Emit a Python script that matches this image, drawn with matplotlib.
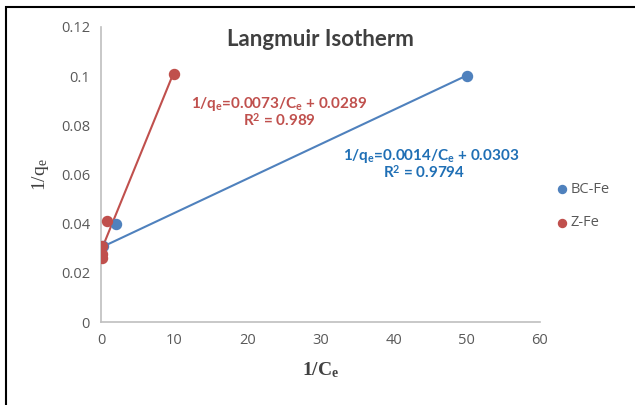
import matplotlib
matplotlib.use("Agg")
import matplotlib.pyplot as plt
import numpy as np
from matplotlib.patches import Rectangle

plt.rcParams['mathtext.fontset'] = 'custom'
plt.rcParams['mathtext.rm'] = 'Liberation Serif'
plt.rcParams['mathtext.it'] = 'Liberation Serif:bold'
plt.rcParams['mathtext.bf'] = 'Lato:bold'

# Data
bc_x = [0.3, 2.0, 50.0]
bc_y = [0.031, 0.040, 0.100]
z_x = [0.1, 0.1, 0.1, 0.8, 10.0]
z_y = [0.026, 0.0275, 0.031, 0.041, 0.101]
bc_fit = [0.0014, 0.0303]   # slope, intercept
z_fit = [0.0073, 0.0289]
series_names = ["BC-Fe", "Z-Fe"]
x_ticks = [0, 10, 20, 30, 40, 50, 60]
y_ticks = [0, 0.02, 0.04, 0.06, 0.08, 0.1, 0.12]
y_ticklabels = ["0", "0.02", "0.04", "0.06", "0.08", "0.1", "0.12"]

blue = "#4F81BD"
red = "#C0504D"
blue_txt = "#1F6FB5"
gray = "#595959"

fig = plt.figure(figsize=(6.35, 4.05), dpi=100)
ax = fig.add_axes([101/635, 83/405, 439/635, 295/405])

# trendlines
for xs, fit, c in [(bc_x, bc_fit, blue), (z_x, z_fit, red)]:
    xx = np.array([min(xs), max(xs)])
    ax.plot(xx, fit[0]*xx + fit[1], color=c, lw=1.5, zorder=2)

ax.scatter(bc_x, bc_y, s=52, color=blue, zorder=3, label=series_names[0])
ax.scatter(z_x, z_y, s=52, color=red, zorder=4, label=series_names[1])

ax.set_xlim(0, 60)
ax.set_ylim(0, 0.12)
ax.set_xticks(x_ticks)
ax.set_yticks(y_ticks)
ax.set_yticklabels(y_ticklabels)
ax.tick_params(length=0, labelsize=10.5, colors=gray, pad=8)
for lab in ax.get_xticklabels() + ax.get_yticklabels():
    lab.set_fontfamily('Open Sans')
for s in ['top', 'right']:
    ax.spines[s].set_visible(False)
for s in ['left', 'bottom']:
    ax.spines[s].set_color('#BFBFBF')
    ax.spines[s].set_linewidth(1.2)

ax.set_xlabel(r'1/C$_\mathit{e}$', family='Liberation Serif', fontweight='bold',
              fontsize=14, color='#404040', labelpad=9)
ax.set_ylabel(r'1/q$_\mathrm{e}$', family='Liberation Serif', fontsize=14,
              color='#404040', labelpad=7)

fig.text(320/635, 1 - 40/405, "Langmuir Isotherm", family='Lato', fontweight='bold',
         fontsize=16, color='#404040', ha='center', va='center')

ax.text(279/635, 1 - 104/405, r'1/q$_\mathbf{e}$=0.0073/C$_\mathbf{e}$ + 0.0289',
        transform=fig.transFigure, family='Lato', fontweight='bold', fontsize=11,
        color=red, ha='center', va='center')
ax.text(279/635, 1 - 121/405, "R$^\\mathbf{2}$ = 0.989",
        transform=fig.transFigure, family='Lato', fontweight='bold', fontsize=11,
        color=red, ha='center', va='center')
ax.text(431/635, 1 - 156/405, r'1/q$_\mathbf{e}$=0.0014/C$_\mathbf{e}$ + 0.0303',
        transform=fig.transFigure, family='Lato', fontweight='bold', fontsize=11,
        color=blue_txt, ha='center', va='center')
ax.text(424/635, 1 - 173/405, "R$^\\mathbf{2}$ = 0.9794",
        transform=fig.transFigure, family='Lato', fontweight='bold', fontsize=11,
        color=blue_txt, ha='center', va='center')

leg = fig.legend(loc='center left', bbox_to_anchor=(540/635, 1 - 206/405),
                 frameon=False, handletextpad=0.0, labelspacing=1.3,
                 prop={'family': 'Open Sans', 'size': 10.5}, markerscale=0.8,
                 handlelength=1.2)
for t in leg.get_texts():
    t.set_color(gray)

fig.patches.append(Rectangle((6/635, -0.1), 1.2, 1 - 7/405 + 0.1,
                             transform=fig.transFigure, fill=False,
                             edgecolor='black', lw=1.5, figure=fig))

fig.savefig("out.png", dpi=100)
